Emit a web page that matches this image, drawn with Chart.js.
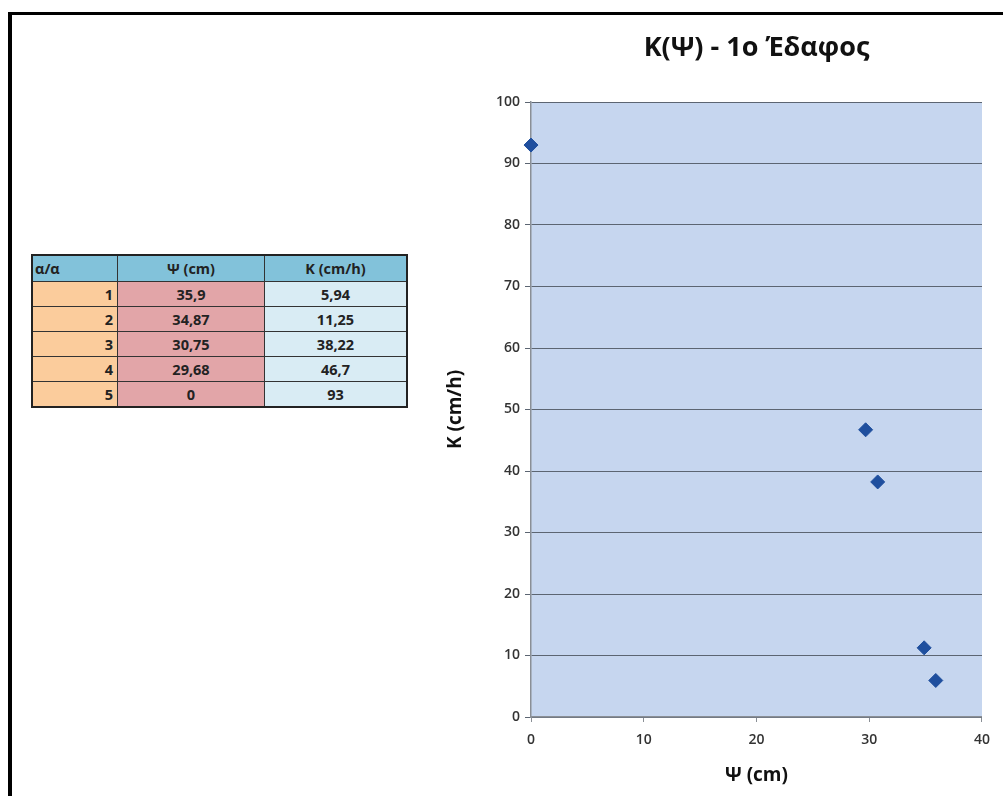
<!DOCTYPE html>
<html>
<head>
<meta charset="utf-8">
<script src="https://cdn.jsdelivr.net/npm/chart.js@4"></script>
<style>
  html, body { margin: 0; padding: 0; background: #fff; }
  body { width: 1003px; height: 796px; position: relative; overflow: hidden; font-family: "Open Sans", sans-serif; }
  #frame { position: absolute; left: 8px; top: 12px; width: 1100px; height: 900px; border-left: 4px solid #000; border-top: 3px solid #000; }
  #wrap { position: absolute; left: 430px; top: 20px; width: 570px; height: 776px; }
  table { position: absolute; left: 31px; top: 254px; border-collapse: collapse; border: 2px solid #222; font-size: 14.5px; font-weight: bold; color: #222; }
  td, th { border: 1px solid #333; padding: 0 4px; height: 24px; }
  th { background: #82c2da; height: 25px; }
  th.c0 { text-align: left; padding-left: 2px; }
  td.c0 { background: #fbcc9c; text-align: right; width: 76px; }
  td.c1 { background: #e2a5a8; text-align: center; width: 138px; }
  td.c2 { background: #d9ecf4; text-align: center; width: 133px; }
</style>
</head>
<body>
<div id="frame"></div>
<table id="tbl"></table>
<div id="wrap"><canvas id="myChart" width="570" height="776"></canvas></div>
<script>
  // table / series data
  const headers = ['α/α', 'Ψ (cm)', 'K (cm/h)'];
  const rowIds = [1, 2, 3, 4, 5];
  const psi = [35.9, 34.87, 30.75, 29.68, 0];
  const kVals = [5.94, 11.25, 38.22, 46.7, 93];

  const fmt = v => String(v).replace('.', ',');

  // build table
  const tbl = document.getElementById('tbl');
  let html = '<tr>' + headers.map((h, i) => `<th class="c${i}">${h}</th>`).join('') + '</tr>';
  rowIds.forEach((id, i) => {
    html += `<tr><td class="c0">${id}</td><td class="c1">${fmt(psi[i])}</td><td class="c2">${fmt(kVals[i])}</td></tr>`;
  });
  tbl.innerHTML = html;

  // plot area background
  const bgPlugin = {
    id: 'plotBg',
    beforeDraw(chart) {
      const { ctx, chartArea: a } = chart;
      ctx.save();
      ctx.fillStyle = '#c6d6ef';
      ctx.fillRect(a.left, a.top, a.right - a.left, a.bottom - a.top);
      ctx.restore();
    }
  };

  const tickFont = { family: 'Open Sans', size: 14, weight: '600' };

  const config = {
    type: 'scatter',
    data: {
      datasets: [{
        label: 'K(Ψ)',
        data: psi.map((x, i) => ({ x: x, y: kVals[i] })),
        pointStyle: 'rectRot',
        radius: 7,
        backgroundColor: '#1f4f9e',
        borderColor: '#1f4f9e',
        borderWidth: 1,
        clip: false
      }]
    },
    plugins: [bgPlugin],
    options: {
      responsive: false,
      animation: false,
      layout: { padding: { left: 0, right: 18, top: 0, bottom: 0 } },
      plugins: {
        legend: { display: false },
        tooltip: { enabled: false },
        title: {
          display: true,
          text: 'Κ(Ψ) - 1ο Έδαφος',
          fullSize: false,
          color: '#111',
          font: { family: 'Open Sans', size: 27, weight: 'bold' },
          padding: { top: 12, bottom: 37.6 }
        }
      },
      scales: {
        x: {
          type: 'linear',
          min: 0,
          max: 40,
          ticks: { stepSize: 10, color: '#333', font: tickFont, padding: 10 },
          grid: { drawOnChartArea: false, drawTicks: true, tickLength: 5, color: '#8a8f96' },
          border: { color: '#8a8f96', width: 1.5 },
          title: {
            display: true,
            text: 'Ψ (cm)',
            color: '#111',
            font: { family: 'Open Sans', size: 19, weight: 'bold' },
            padding: { top: 4, bottom: 9 }
          },
          afterFit(scale) { scale.height = 79; }
        },
        y: {
          type: 'linear',
          min: 0,
          max: 100,
          ticks: { stepSize: 10, color: '#333', font: tickFont, padding: 5 },
          grid: { color: '#5c6572', lineWidth: 1, tickLength: 6 },
          border: { color: '#8a8f96', width: 1.5 },
          title: {
            display: true,
            text: 'K (cm/h)',
            color: '#111',
            font: { family: 'Open Sans', size: 19, weight: 'bold' },
            padding: { top: 14, bottom: 0 }
          },
          afterFit(scale) { scale.width = 101; }
        }
      }
    }
  };

  const myChart = new Chart(document.getElementById('myChart'), config);
</script>
</body>
</html>
